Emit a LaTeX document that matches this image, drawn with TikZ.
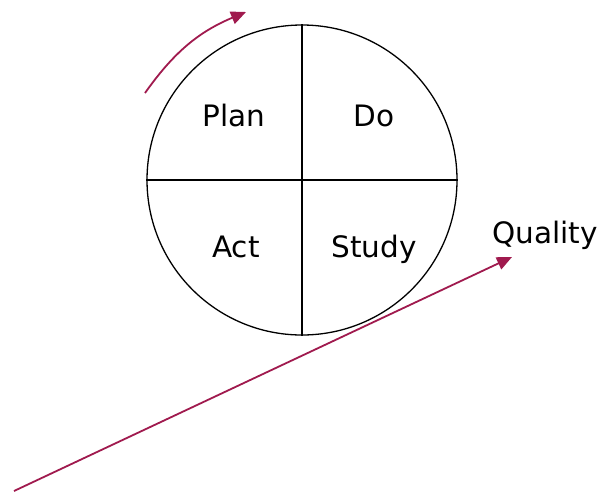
\documentclass[tikz,border=0pt]{standalone}
\usepackage{fontspec}
\setmainfont{DejaVu Sans}
\definecolor{pdsared}{HTML}{A01A4E}
\usetikzlibrary{arrows.meta}

\begin{document}
\begin{tikzpicture}[x=1pt, y=-1pt,
    every node/.style={font=\fontsize{29.5}{32}\selectfont},
    phase/.style={anchor=base},
    flow/.style={draw=pdsared, line width=1.8pt, -{Triangle[length=15pt, width=13pt]}}]
  \useasboundingbox (0,0) rectangle (601,493);

  % the cycle
  \node[circle, draw, line width=1.3pt, minimum size=310pt, inner sep=0pt] (wheel) at (302,180) {};
  \draw[line width=1.3pt] (wheel.north) -- (wheel.south);
  \draw[line width=1.3pt] (wheel.west) -- (wheel.east);

  % quadrants
  \node[phase] (plan) at (234,126) {Plan};
  \node[phase] (do) at (374,126) {Do};
  \node[phase] (act) at (236,257) {Act};
  \node[phase] (study) at (374,257) {Study};

  % arrows
  \coordinate (turnfrom) at (145,93);
  \coordinate (turnto) at (246,12);
  \draw[flow] (turnfrom) to[bend left=16] (turnto);

  \coordinate (risefrom) at (14,491);
  \coordinate (riseto) at (512,257);
  \draw[flow] (risefrom) -- (riseto);
  \node[anchor=base] (quality) at (545,243) {Quality};
\end{tikzpicture}
\end{document}
